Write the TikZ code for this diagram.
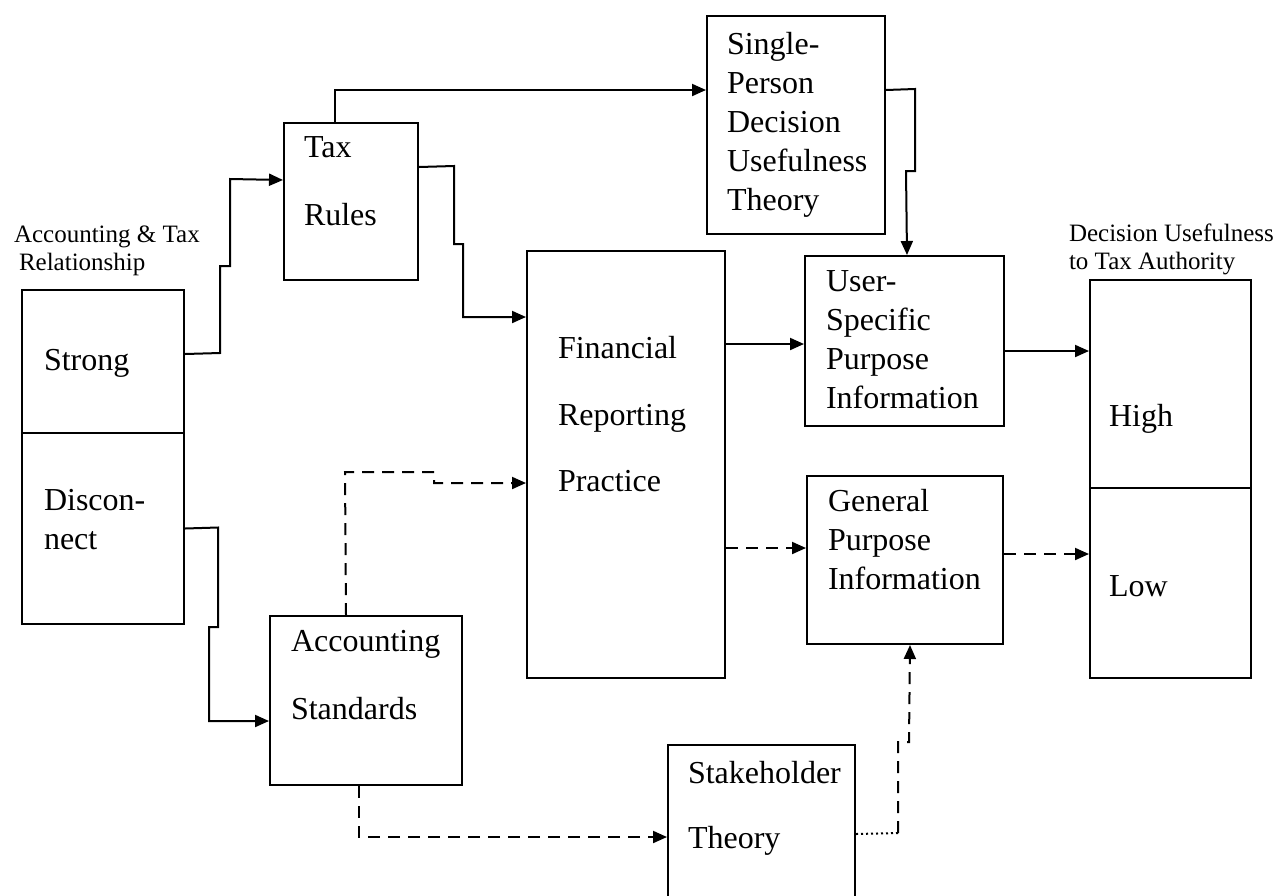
\documentclass[tikz,border=0pt]{standalone}
\usepackage{fontspec}
\setmainfont{Liberation Serif}
\usetikzlibrary{arrows.meta,calc}

\newcommand{\bigtxt}{\fontsize{32}{39}\selectfont}
\newcommand{\smalltxt}{\fontsize{25}{28}\selectfont}

\begin{document}
\begin{tikzpicture}[
      x = 1pt, y = -1pt,
      every path/.style = {line width = 2pt},
      box/.style = {draw, rectangle, inner sep = 0pt, anchor = north west},
      txt/.style = {anchor = north west, inner sep = 0pt, align = left,
        font = \bigtxt, execute at begin node = \strut},
      lbl/.style = {anchor = north west, inner sep = 0pt, align = left,
        font = \smalltxt, execute at begin node = \strut},
      arr/.style = {-{Triangle[length = 14pt, width = 12pt]}},
      dsh/.style = {dash pattern = on 12pt off 8pt},
      dotline/.style = {dash pattern = on 2pt off 3pt}
      ]
    \useasboundingbox (0,0) rectangle (1276,895);
    % boxes
    \node[box, minimum width = 162pt, minimum height = 143pt] (strong) at (21,289) {};
    \node[box, minimum width = 162pt, minimum height = 191pt] (discon) at (21,432) {};
    \node[box, minimum width = 134pt, minimum height = 157pt] (tax) at (283,122) {};
    \node[box, minimum width = 178pt, minimum height = 218pt] (single) at (706,15) {};
    \node[box, minimum width = 198pt, minimum height = 427pt] (fin) at (526,250) {};
    \node[box, minimum width = 199pt, minimum height = 170pt] (user) at (804,255) {};
    \node[box, minimum width = 196pt, minimum height = 168pt] (gen) at (806,475) {};
    \node[box, minimum width = 161pt, minimum height = 208pt] (high) at (1089,279) {};
    \node[box, minimum width = 161pt, minimum height = 190pt] (low) at (1089,487) {};
    \node[box, minimum width = 192pt, minimum height = 169pt] (acc) at (269,615) {};
    \node[box, minimum width = 187pt, minimum height = 170pt] (stake) at (667,744) {};
    % texts
    \node[lbl] (relLbl) at (13,224.4) {Accounting \& Tax\\\hspace*{5pt}Relationship};
    \node[lbl] (dutaLbl) at (1068,222.4) {Decision Usefulness\\to Tax Authority};
    \node[txt] (strongT) at (43,341.7) {Strong};
    \node[txt] (disconT) at (43,488.7) {Discon-\\nect};
    \node[txt] (taxT) at (303,136) {Tax\\[29pt]Rules};
    \node[txt] (singleT) at (726,31.7) {Single-\\Person\\Decision\\Usefulness\\Theory};
    \node[txt] (finT) at (557,335.7) {Financial\\[27.5pt]Reporting\\[27.5pt]Practice};
    \node[txt] (userT) at (825,269.7) {User-\\Specific\\Purpose\\Information};
    \node[txt] (genT) at (827,488.7) {General\\Purpose\\Information};
    \node[txt] (highT) at (1108,397.7) {High};
    \node[txt] (lowT) at (1108,567.7) {Low};
    \node[txt] (accT) at (290,629.7) {Accounting\\[29pt]Standards};
    \node[txt] (stakeT) at (687,760.7) {Stakeholder\\[26pt]Theory};
    % connectors
    \draw[arr] ($(strong.east)+(0,-7.5)$) -- (220,353) -- (220,266) -- (230,266)
      -- (230,179) -- ($(tax.west)+(0,-21.5)$);
    \draw[arr] ($(tax.north)+(-16,0)$) |- ($(single.west)+(0,-35)$);
    \draw[arr] ($(tax.east)+(0,-34.5)$) -- (454,166) -- (454,244) -- (463,244)
      |- ($(fin.west)+(0,-147.5)$);
    \draw[arr] ($(single.east)+(0,-35)$) -- (915,89) -- (915,171) -- (906,171)
      -- ($(user.north)+(2.5,0)$);
    \draw[arr] ($(fin.east)+(0,-120.5)$) -- ($(user.west)+(0,3)$);
    \draw[arr, dsh] ($(fin.east)+(0,83.5)$) -- ($(gen.west)+(0,-12)$);
    \draw[arr] ($(user.east)+(0,10)$) -- ($(high.west)+(0,-33)$);
    \draw[arr, dsh] ($(gen.east)+(0,-6)$) -- ($(low.west)+(0,-29)$);
    \draw[arr] (discon.east) -- (218,527.5) -- (218,627) -- (209,627)
      |- ($(acc.west)+(0,20.5)$);
    \draw[arr, dsh] ($(acc.north)+(-20,0)$) -- (345,472) -- (434,472)
      |- ($(fin.west)+(0,18.5)$);
    \draw[arr, dsh] ($(acc.south)+(-7,0)$) |- ($(stake.west)+(0,7)$);
    \coordinate (bend) at (898,833);
    \draw[dotline] ($(stake.east)+(0,4)$) -- (bend);
    \draw[arr, dsh] (bend) -- (898,742) -- (909,742) -- ($(gen.south)+(5,0)$);
  \end{tikzpicture}
\end{document}
